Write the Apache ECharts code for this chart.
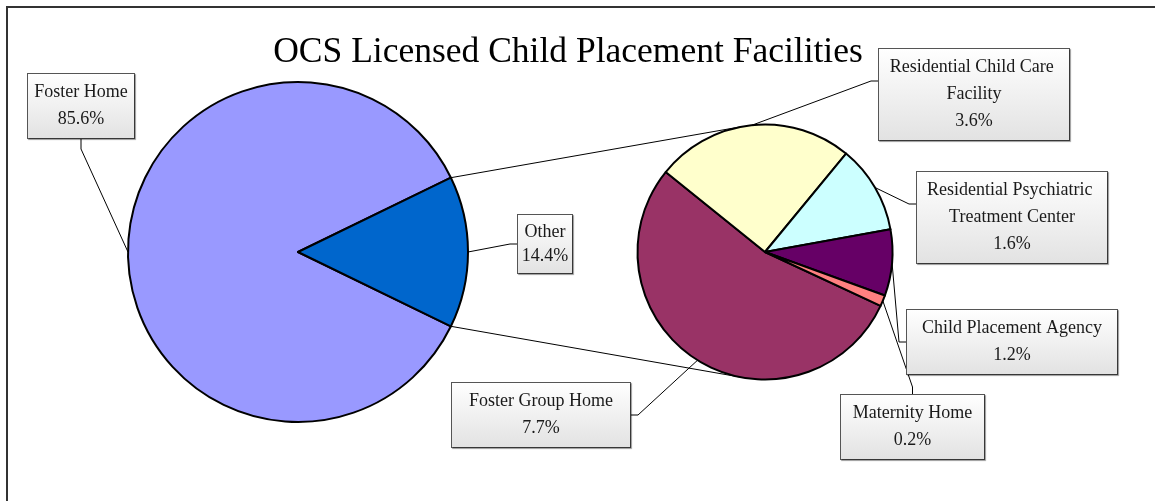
<!DOCTYPE html>
<html>
<head>
<meta charset="utf-8">
<title>OCS Licensed Child Placement Facilities</title>
<script src="https://cdn.jsdelivr.net/npm/echarts@6/dist/echarts.min.js"></script>
<style>
  html, body { margin: 0; padding: 0; background: #fff; }
  #chart { width: 1155px; height: 501px; }
</style>
</head>
<body>
<div id="chart"></div>
<script>
// data (percent of all licensed facilities)
var mainCategories = ['Foster Home', 'Other'];
var mainValues = [85.6, 14.4];
var otherCategories = ['Foster Group Home', 'Residential Child Care Facility',
    'Residential Psychiatric Treatment Center', 'Child Placement Agency', 'Maternity Home'];
var otherValues = [7.7, 3.6, 1.6, 1.2, 0.2];

var mainColors = ['#9999FF', '#0066CC'];
var otherColors = ['#993366', '#FFFFCC', '#CCFFFF', '#660066', '#FF8080'];

// pie geometry
var MAIN = { cx: 298, cy: 252, r: 170 };
var SUB = { cx: 765, cy: 252, r: 127.5, start: -25 };
var FONT = 'Liberation Serif';

// label boxes: top-left corner, width, and which edge the leader line meets
var labelBoxes = {
    'Foster Home': { x: 28, y: 74, w: 106, side: 'bottom' },
    'Other': { x: 518, y: 215, w: 54, side: 'left', lh: 24 },
    'Residential Child Care Facility': { x: 879, y: 49, w: 190, side: 'left' },
    'Residential Psychiatric Treatment Center': { x: 917, y: 172, w: 190, side: 'left' },
    'Child Placement Agency': { x: 907, y: 310, w: 210, side: 'left' },
    'Maternity Home': { x: 841, y: 395, w: 143, side: 'top' },
    'Foster Group Home': { x: 452, y: 383, w: 178, side: 'right' }
};

function sum(arr) {
    return arr.reduce(function (a, b) { return a + b; }, 0);
}

// mid angle of each slice (degrees, clockwise from start)
function midAngles(values, start) {
    var total = sum(values), acc = start, out = [];
    values.forEach(function (v) {
        var span = v / total * 360;
        out.push(acc - span / 2);
        acc -= span;
    });
    return out;
}

var otherHalf = mainValues[1] / sum(mainValues) * 180;
var mainStart = -otherHalf;
var mainMids = midAngles(mainValues, mainStart);
var subMids = midAngles(otherValues, SUB.start);

function onCircle(g, deg) {
    var a = deg * Math.PI / 180;
    return [g.cx + g.r * Math.cos(a), g.cy - g.r * Math.sin(a)];
}

// tangent from point p onto circle g
function tangent(p, g, sign) {
    var dx = p[0] - g.cx, dy = p[1] - g.cy;
    var d = Math.sqrt(dx * dx + dy * dy);
    var a = Math.atan2(dy, dx) + sign * Math.acos(g.r / d);
    return [g.cx + g.r * Math.cos(a), g.cy + g.r * Math.sin(a)];
}

var boxFill = new echarts.graphic.LinearGradient(0, 0, 0, 1, [
    { offset: 0, color: '#ffffff' },
    { offset: 1, color: '#e2e2e2' }
]);

function buildData(names, values, colors) {
    return names.map(function (n, i) {
        var box = labelBoxes[n];
        return {
            name: n,
            value: values[i],
            itemStyle: { color: colors[i] },
            label: { width: box.w - 6, lineHeight: box.lh || 27 }
        };
    });
}

function makeLayout(names, mids, g) {
    return function (params) {
        var box = labelBoxes[names[params.dataIndex]];
        var lh = box.lh || 27;
        var lines = params.text.split('\n').length;
        var h = lines * lh + 10;
        var anchor = onCircle(g, mids[params.dataIndex]);
        var attach, elbow;
        if (box.side === 'left') {
            attach = [box.x, box.y + h / 2];
            elbow = [box.x - 8, box.y + h / 2];
        } else if (box.side === 'right') {
            attach = [box.x + box.w, box.y + h / 2];
            elbow = [box.x + box.w + 8, box.y + h / 2];
        } else if (box.side === 'top') {
            attach = [box.x + box.w / 2, box.y];
            elbow = [box.x + box.w / 2, box.y - 8];
        } else {
            attach = [box.x + box.w / 2, box.y + h];
            elbow = [box.x + box.w / 2, box.y + h + 11];
        }
        return {
            x: box.x + box.w / 2,
            y: box.y,
            align: 'center',
            verticalAlign: 'top',
            labelLinePoints: [anchor, elbow, attach]
        };
    };
}

var labelStyle = {
    show: true,
    position: 'outside',
    formatter: '{b}\n{c}%',
    overflow: 'break',
    fontFamily: FONT,
    fontSize: 18,
    color: '#1a1a1a',
    align: 'center',
    padding: [5, 3],
    backgroundColor: boxFill,
    borderColor: '#555',
    borderWidth: 1,
    shadowColor: 'rgba(0,0,0,0.35)',
    shadowBlur: 1,
    shadowOffsetX: 1,
    shadowOffsetY: 1
};

var upper = onCircle(MAIN, otherHalf);
var lower = onCircle(MAIN, -otherHalf);
var upperT = tangent(upper, SUB, 1);
var lowerT = tangent(lower, SUB, -1);

var chart = echarts.init(document.getElementById('chart'));
var option = {
    animation: false,
    backgroundColor: '#fff',
    graphic: [{
        type: 'rect',
        shape: { x: 7, y: 7, width: 1300, height: 700 },
        style: { fill: 'none', stroke: '#333', lineWidth: 2 },
        z: -1
    }, {
        type: 'text',
        x: 568,
        y: 53,
        style: {
            text: 'OCS Licensed Child Placement Facilities',
            fontFamily: FONT,
            fontSize: 35.5,
            fill: '#000',
            align: 'center',
            verticalAlign: 'middle'
        }
    }, {
        type: 'polyline',
        shape: { points: [upper, upperT] },
        style: { stroke: '#000', lineWidth: 1, fill: 'none' },
        z: 1
    }, {
        type: 'polyline',
        shape: { points: [lower, lowerT] },
        style: { stroke: '#000', lineWidth: 1, fill: 'none' },
        z: 1
    }],
    series: [{
        name: 'All',
        type: 'pie',
        center: [MAIN.cx, MAIN.cy],
        radius: [0, MAIN.r],
        startAngle: mainStart,
        clockwise: true,
        avoidLabelOverlap: false,
        silent: true,
        itemStyle: { borderColor: '#000', borderWidth: 2 },
        label: labelStyle,
        labelLine: { show: true, minTurnAngle: 0, lineStyle: { color: '#000', width: 1 } },
        labelLayout: makeLayout(mainCategories, mainMids, MAIN),
        data: buildData(mainCategories, mainValues, mainColors)
    }, {
        name: 'Other',
        type: 'pie',
        center: [SUB.cx, SUB.cy],
        radius: [0, SUB.r],
        startAngle: SUB.start,
        clockwise: true,
        avoidLabelOverlap: false,
        silent: true,
        itemStyle: { borderColor: '#000', borderWidth: 2 },
        label: labelStyle,
        labelLine: { show: true, minTurnAngle: 0, lineStyle: { color: '#000', width: 1 } },
        labelLayout: makeLayout(otherCategories, subMids, SUB),
        data: buildData(otherCategories, otherValues, otherColors)
    }]
};
chart.setOption(option);
</script>
</body>
</html>
